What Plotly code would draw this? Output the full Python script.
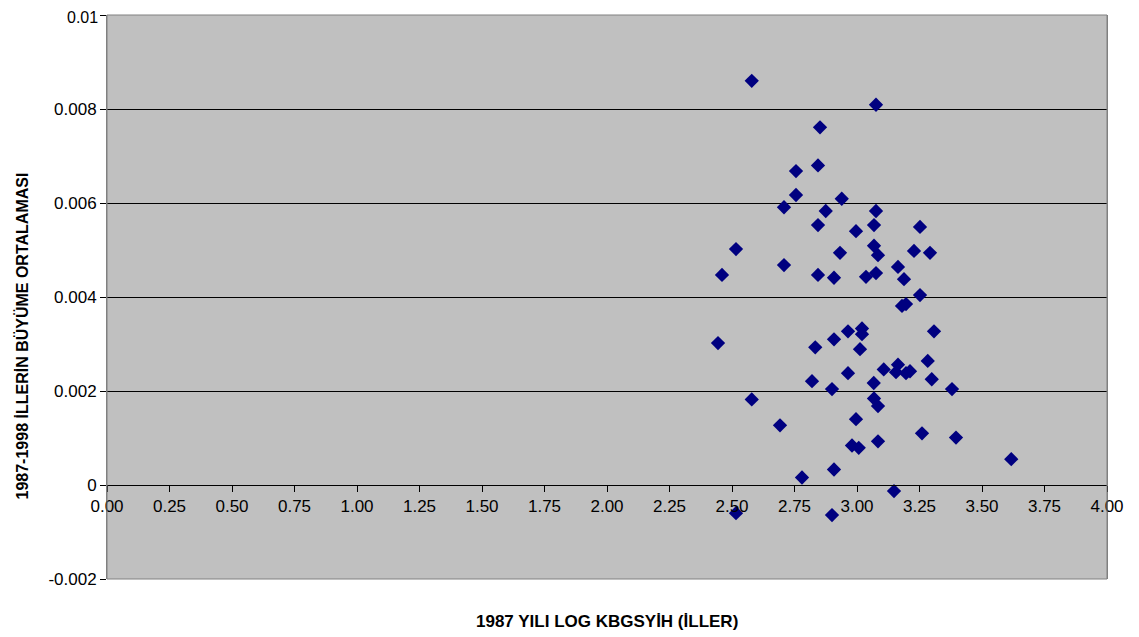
import plotly.graph_objects as go

# log GDP per capita 1987 (x) vs avg growth 1987-1998 (y)
log_gdp = [2.579, 3.076, 2.852, 2.844, 2.756, 2.756, 2.708, 2.939, 2.875, 3.076,
           2.844, 3.068, 2.996, 3.252, 2.516, 2.46, 2.708, 2.844, 2.908, 2.932,
           3.068, 3.084, 3.036, 3.076, 3.164, 3.188, 3.228, 3.292, 3.252, 3.18,
           3.196, 2.444, 2.833, 2.908, 2.964, 3.02, 3.02, 3.012, 3.308, 2.964,
           2.82, 2.9, 3.067, 3.107, 3.164, 3.156, 3.196, 3.212, 3.283, 3.299,
           3.38, 3.068, 3.084, 2.579, 2.692, 2.996, 3.26, 3.396, 2.98, 3.007,
           3.084, 3.617, 2.908, 2.78, 3.148, 2.516, 2.9]
growth = [0.0086, 0.00809, 0.00761, 0.0068, 0.00668, 0.00617, 0.00591, 0.00609, 0.00583, 0.00583,
          0.00553, 0.00553, 0.0054, 0.00549, 0.00502, 0.00447, 0.00468, 0.00447, 0.00441, 0.00494,
          0.00509, 0.00489, 0.00443, 0.00451, 0.00464, 0.00438, 0.00498, 0.00494, 0.00404, 0.00381,
          0.00385, 0.00302, 0.00293, 0.0031, 0.00327, 0.00333, 0.00321, 0.00289, 0.00327, 0.00238,
          0.00221, 0.00204, 0.00217, 0.00246, 0.00256, 0.0024, 0.00238, 0.00242, 0.00264, 0.00225,
          0.00204, 0.00184, 0.00168, 0.00182, 0.00127, 0.0014, 0.0011, 0.00101, 0.00084, 0.00079,
          0.00093, 0.00055, 0.00033, 0.00016, -0.00013, -0.0006, -0.00064]

y_ticks = [-0.002, 0, 0.002, 0.004, 0.006, 0.008, 0.01]
y_labels = ["-0.002", "0", "0.002", "0.004", "0.006", "0.008", ""]
y_top_label = "0.01"

fig = go.Figure(go.Scatter(
    x=log_gdp, y=growth, mode="markers",
    marker=dict(symbol="diamond", size=11, color="#000080"),
))

font = dict(family="Liberation Sans, Arial", size=17, color="black")
fig.update_layout(
    width=1139, height=637,
    margin=dict(l=99, r=40, t=7, b=66),
    plot_bgcolor="#c0c0c0", paper_bgcolor="white",
    showlegend=False, font=font,
    xaxis=dict(range=[0, 4], dtick=0.25, tickformat=".2f", anchor="free",
               position=94 / 564, showgrid=False, zeroline=False, automargin=False,
               showline=True, linecolor="black", ticks="outside", ticklen=6,
               tickcolor="black", mirror=False),
    yaxis=dict(range=[-0.002, 0.01], tickvals=y_ticks, ticktext=y_labels,
               showgrid=True, gridcolor="black", gridwidth=1, automargin=False,
               zeroline=False, showline=True, linecolor="#808080",
               ticks="outside", ticklen=6, tickcolor="black", mirror=True),
    shapes=[dict(type="rect", xref="paper", yref="paper", x0=0, x1=1, y0=0, y1=1,
                 line=dict(color="#808080", width=1))],
    annotations=[
        dict(text=y_top_label, xref="paper", yref="paper", x=0, y=1,
             xshift=-8, yshift=7, xanchor="right", yanchor="top", showarrow=False,
             borderpad=0, font=dict(family="Liberation Sans, Arial", size=16)),
        dict(text="<b>1987 YILI LOG KBGSYİH (İLLER)</b>", xref="paper", yref="paper",
             x=0.5, y=-0.075, showarrow=False, yanchor="middle", font=font),
        dict(text="<b>1987-1998 İLLERİN BÜYÜME ORTALAMASI</b>", xref="paper", yref="paper",
             x=-0.085, y=0.43, textangle=-90, showarrow=False, xanchor="center",
             yanchor="middle", font=dict(family="Liberation Sans, Arial", size=16)),
    ],
)

fig.write_html("out.html")
